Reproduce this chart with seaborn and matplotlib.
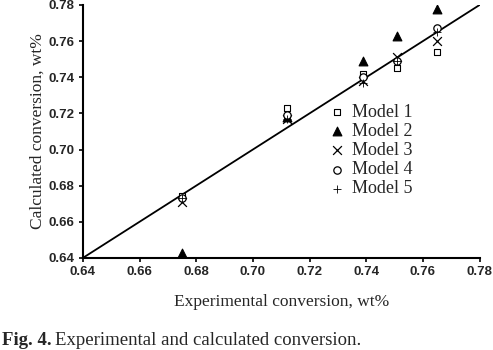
import seaborn as sns
import matplotlib.pyplot as plt
import pandas as pd

# experimental conversion (x) and calculated values per model
experimental = [0.675, 0.712, 0.739, 0.751, 0.765]
model_1 = [0.674, 0.723, 0.742, 0.745, 0.754]
model_2 = [0.643, 0.718, 0.749, 0.763, 0.778]
model_3 = [0.671, 0.717, 0.738, 0.751, 0.760]
model_4 = [0.673, 0.719, 0.740, 0.749, 0.767]
model_5 = [0.673, 0.717, 0.737, 0.749, 0.765]
model_names = ['Model 1', 'Model 2', 'Model 3', 'Model 4', 'Model 5']
ticks = [0.64, 0.66, 0.68, 0.70, 0.72, 0.74, 0.76, 0.78]

series = [model_1, model_2, model_3, model_4, model_5]
df = pd.concat([pd.DataFrame({'exp': experimental, 'calc': s, 'model': n})
                for n, s in zip(model_names, series)], ignore_index=True)

sns.set_style('ticks')
plt.rcParams['font.family'] = ['Liberation Serif', 'DejaVu Serif']

fig = plt.figure(figsize=(4.93, 3.5), dpi=100)
ax = fig.add_axes([0.168, 0.263, 0.805, 0.723])

# parity line
sns.lineplot(x=[ticks[0], ticks[-1]], y=[ticks[0], ticks[-1]], color='black',
             lw=1.3, ax=ax, legend=False)

styles = {
    'Model 1': dict(marker='s', facecolor='white', edgecolor='black', s=22, linewidth=0.8),
    'Model 2': dict(marker='^', facecolor='black', edgecolor='black', s=40, linewidth=0.8),
    'Model 3': dict(marker='x', color='black', s=40, linewidth=0.9),
    'Model 4': dict(marker='o', facecolor='white', edgecolor='black', s=28, linewidth=0.9),
    'Model 5': dict(marker='+', color='black', s=30, linewidth=0.6),
}
for name in model_names:
    sub = df[df['model'] == name]
    sns.scatterplot(data=sub, x='exp', y='calc', ax=ax, label=name,
                    zorder=3, **styles[name])

ax.set_xlim(ticks[0], ticks[-1])
ax.set_ylim(ticks[0], ticks[-1])
ax.set_xticks(ticks)
ax.set_yticks(ticks)
ax.set_xticklabels([f'{t:.2f}' for t in ticks], fontfamily='Liberation Sans',
                   fontweight='bold', fontsize=9.5)
ax.set_yticklabels([f'{t:.2f}' for t in ticks], fontfamily='Liberation Sans',
                   fontweight='bold', fontsize=9.5)
ax.tick_params(length=3, width=1.2, color='black', pad=3)
for sp in ['left', 'bottom']:
    ax.spines[sp].set_linewidth(1.5)
    ax.spines[sp].set_color('black')
sns.despine(ax=ax)

ax.set_xlabel('Experimental conversion, wt%', fontsize=12.5, labelpad=11)
ax.set_ylabel('Calculated conversion, wt%', fontsize=12.5, labelpad=2)

ax.legend(loc='upper left', bbox_to_anchor=(0.59, 0.645), frameon=False,
          fontsize=13, handletextpad=0.25, labelspacing=0.12,
          handlelength=1.2, borderpad=0)

fig.text(0.004, 0.015, 'Fig. 4.', fontsize=13.5, fontweight='bold')
fig.text(0.112, 0.015, 'Experimental and calculated conversion.', fontsize=13.5)

fig.savefig('out.png', dpi=100)
